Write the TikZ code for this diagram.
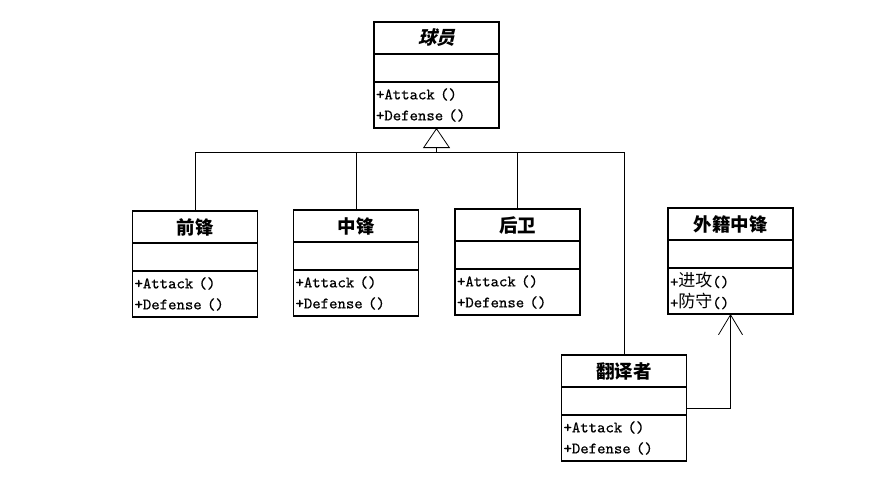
\documentclass[tikz,border=0pt]{standalone}
\usepackage{fontspec}
\usepackage{tikz}
\usetikzlibrary{arrows.meta, positioning}
\newfontfamily\cjk{Noto Sans CJK SC}
\newfontfamily\cjkslant[FakeSlant=0.25]{Noto Sans CJK SC}
\newfontfamily\opsfont[FakeBold=0.5]{lmmono10-regular.otf}
\tikzstyle{classtitle} = [draw, line width=1.2pt, outer sep=0pt, minimum width=125pt, minimum height=32pt, font=\cjk\bfseries\fontsize{18.5}{20}\selectfont]
\tikzstyle{classattr} = [draw, line width=1.2pt, outer sep=0pt, minimum width=125pt, minimum height=28pt]
\tikzstyle{classops} = [draw, line width=1.2pt, outer sep=0pt, minimum width=125pt, minimum height=46pt, text width=121pt, inner xsep=2pt, inner ysep=0pt, align=left, font=\opsfont\fontsize{16}{21}\selectfont]
\tikzstyle{link} = [line width=0.8pt]

\begin{document}
\begin{tikzpicture}[x=1pt, y=-1pt]
\useasboundingbox (0,0) rectangle (871,483);

% Define the class boxes
\node[classtitle, anchor=north] (player) at (436.5,22) {\cjkslant 球员};
\node[classattr, below=0pt of player] (player-attr) {};
\node[classops, below=0pt of player-attr] (player-ops) {+Attack ()\\+Defense ()};

\node[classtitle, anchor=north] (forward) at (195,211) {前锋};
\node[classattr, below=0pt of forward] (forward-attr) {};
\node[classops, below=0pt of forward-attr] (forward-ops) {+Attack ()\\+Defense ()};

\node[classtitle, anchor=north] (center) at (356,210) {中锋};
\node[classattr, below=0pt of center] (center-attr) {};
\node[classops, below=0pt of center-attr] (center-ops) {+Attack ()\\+Defense ()};

\node[classtitle, anchor=north] (back) at (517.5,209) {后卫};
\node[classattr, below=0pt of back] (back-attr) {};
\node[classops, below=0pt of back-attr] (back-ops) {+Attack ()\\+Defense ()};

\node[classtitle, anchor=north] (foreign) at (730.5,208) {外籍中锋};
\node[classattr, below=0pt of foreign] (foreign-attr) {};
\node[classops, below=0pt of foreign-attr] (foreign-ops) {+{\cjk\fontsize{17}{21}\selectfont 进攻}()\\+{\cjk\fontsize{17}{21}\selectfont 防守}()};

\node[classtitle, anchor=north] (translator) at (624,355) {翻译者};
\node[classattr, below=0pt of translator] (translator-attr) {};
\node[classops, below=0pt of translator-attr] (translator-ops) {+Attack ()\\+Defense ()};

% Add the inheritance lines
\coordinate (bus) at (player-ops.south |- 0,152);
\draw[link, -{Triangle[open, length=20pt, width=27pt]}] (bus) -- (player-ops.south);
\draw[link] (forward.north) |- (bus);
\draw[link] (center.north) |- (bus);
\draw[link] (back.north) |- (bus);
\draw[link] (translator.north) |- (bus);

% Add the association
\draw[link, -{Straight Barb[length=20pt, width=24pt]}] ([yshift=7pt]translator-attr.south east) -| (foreign-ops.south);

\end{tikzpicture}
\end{document}
